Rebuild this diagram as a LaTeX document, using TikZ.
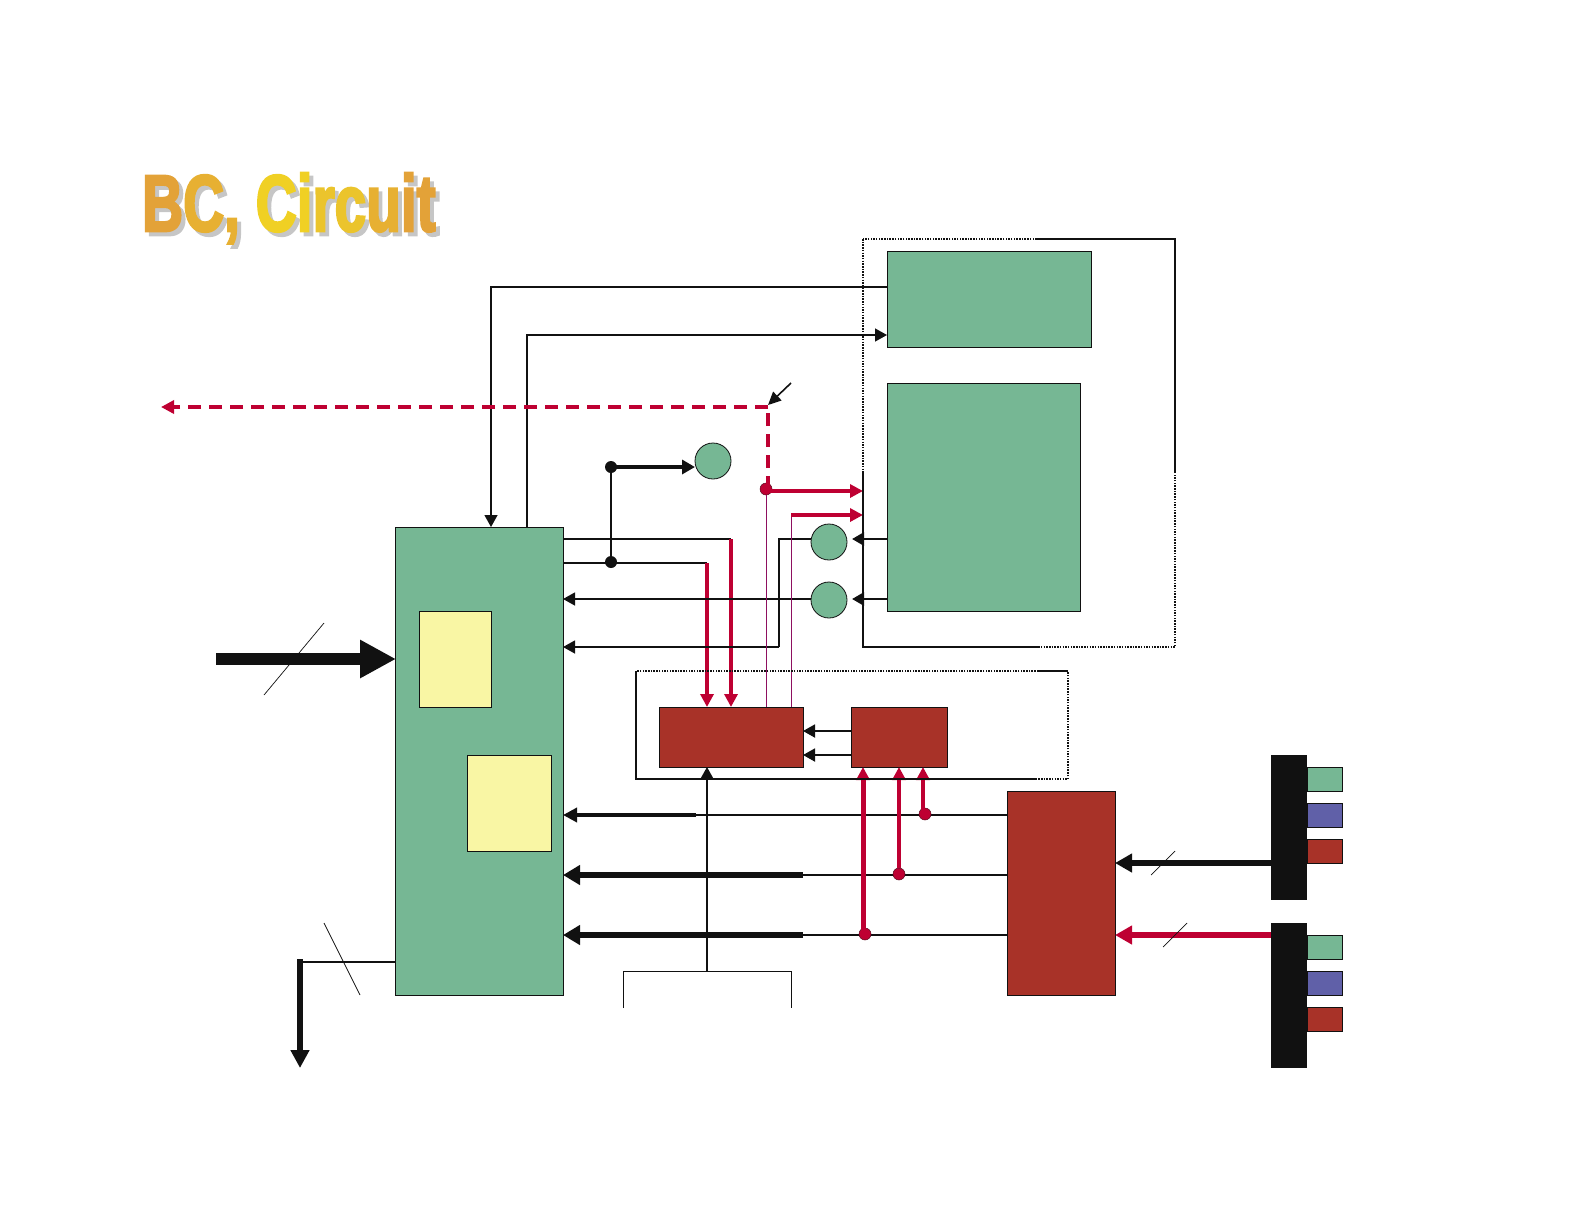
\documentclass[tikz,border=0pt]{standalone}
\usepackage{fontspec}
\usepackage{tikz}
\usetikzlibrary{calc,arrows.meta}
\newfontfamily\titlefont{Liberation Sans}[UprightFont=* Bold,FakeBold=3.4]
\definecolor{boxgreen}{HTML}{76B794}
\definecolor{boxbrick}{HTML}{A83228}
\definecolor{boxyellow}{HTML}{F9F6A4}
\definecolor{boxblue}{HTML}{6060A8}
\definecolor{wirered}{HTML}{BE0032}
\definecolor{wirepurple}{HTML}{8E1060}
\definecolor{barblack}{HTML}{111111}
\definecolor{titleshade}{HTML}{C6C6C6}
\definecolor{titleA}{HTML}{E3A238}
\definecolor{titleB}{HTML}{E7B032}
\definecolor{titleC}{HTML}{F0D024}
\definecolor{titleD}{HTML}{EBC42C}
\tikzset{
  block/.style={draw=barblack, line width=1pt, inner sep=0pt, outer sep=0pt, anchor=north west},
  greenbox/.style={block, fill=boxgreen},
  brickbox/.style={block, fill=boxbrick},
  yellowbox/.style={block, fill=boxyellow},
  bluebox/.style={block, fill=boxblue},
  stackbar/.style={inner sep=0pt, outer sep=0pt, anchor=north west, fill=barblack, minimum width=36pt, minimum height=145pt},
  smallbox/.style={minimum width=35pt, minimum height=24pt},
  ball/.style={circle, draw=barblack, line width=.8pt, fill=boxgreen, inner sep=0pt, outer sep=0pt, minimum size=36pt},
  blackdot/.style={circle, fill=barblack, inner sep=0pt, outer sep=0pt, minimum size=12pt},
  reddot/.style={circle, draw=barblack!60!wirered, line width=.5pt, fill=wirered, inner sep=0pt, outer sep=0pt, minimum size=12pt},
  thinwire/.style={draw=barblack, line width=1.3pt},
  buswire/.style={draw=barblack, line width=2.8pt},
  thickwire/.style={draw=barblack, line width=6.2pt},
  redwire/.style={draw=wirered, line width=3.8pt},
  purplewire/.style={draw=wirepurple, line width=1pt},
  slashmark/.style={draw=barblack, line width=.7pt},
  tipblack/.style={-{Triangle[length=12pt,width=13pt]}},
  tipred/.style={-{Triangle[length=13pt,width=13pt]}},
  tipbus/.style={-{Triangle[length=17pt,width=19pt]}},
  reddash/.style={draw=wirered, line width=4pt, dash pattern=on 13pt off 8pt},
  dotframe/.style={draw=barblack, line width=2.8pt, dash pattern=on 1.5pt off 1.2pt},
  solidframe/.style={draw=barblack, line width=2.6pt, line cap=butt},
}
\begin{document}
\begin{tikzpicture}[x=1pt,y=-1pt]
  \useasboundingbox (0,0) rectangle (1584,1224);

  % title
  \node[anchor=base west, inner sep=0pt, xscale=.71, font=\titlefont\fontsize{80}{80}\selectfont, text=titleshade] (titleshadow) at (146,235) {BC, Circuit};
  \node[anchor=base west, inner sep=0pt, xscale=.71, font=\titlefont\fontsize{80}{80}\selectfont] (title) at (142,231) {\textcolor{titleA}{B}\textcolor{titleB}{C,} \textcolor{titleC}{Ci}\textcolor{titleD}{rc}\textcolor{titleB}{u}\textcolor{titleA}{it}};

  % blocks
  \node[greenbox, minimum width=168pt, minimum height=468pt] (cpu) at (395,527) {};
  \node[yellowbox, minimum width=72pt, minimum height=96pt] (regA) at (419,611) {};
  \node[yellowbox, minimum width=84pt, minimum height=96pt] (regB) at (467,755) {};
  \node[greenbox, minimum width=204pt, minimum height=96pt] (memA) at (887,251) {};
  \node[greenbox, minimum width=193pt, minimum height=228pt] (memB) at (887,383) {};
  \node[brickbox, minimum width=144pt, minimum height=60pt] (ctrlA) at (659,707) {};
  \node[brickbox, minimum width=96pt, minimum height=60pt] (ctrlB) at (851,707) {};
  \node[brickbox, minimum width=108pt, minimum height=204pt] (mux) at (1007,791) {};

  % connector stacks
  \node[stackbar] (stackA) at (1271,755) {};
  \node[stackbar] (stackB) at (1271,923) {};
  \node[greenbox, smallbox] (pinAa) at (1307,767) {};
  \node[bluebox, smallbox] (pinAb) at (1307,803) {};
  \node[brickbox, smallbox] (pinAc) at (1307,839) {};
  \node[greenbox, smallbox] (pinBa) at (1307,935) {};
  \node[bluebox, smallbox] (pinBb) at (1307,971) {};
  \node[brickbox, smallbox] (pinBc) at (1307,1007) {};

  % ports and bends
  \coordinate (memOut) at (887,287);
  \coordinate (memIn) at (887,335);
  \coordinate (cpuOut) at (527,527);
  \coordinate (cpuIn) at (491,527);
  \coordinate (portA) at (887,539);
  \coordinate (portB) at (887,599);
  \coordinate (bendA) at (779,647);
  \coordinate (dashCorner) at (768,407);
  \coordinate (dashEnd) at (161,407);
  \coordinate (pointerTail) at (791,383);
  \coordinate (pointerTip) at (768,405);
  \coordinate (redIn) at (863,491);
  \coordinate (redInB) at (863,515);
  \coordinate (redCorner) at (791,515);
  \coordinate (cornerA) at (731,539);
  \coordinate (cornerB) at (707,563);
  \coordinate (tapIn) at (707,767);
  \coordinate (tapBox) at (707,971);
  \coordinate (busA) at (563,815);
  \coordinate (busB) at (563,875);
  \coordinate (busC) at (563,935);
  \coordinate (busAmid) at (696,815);
  \coordinate (busBmid) at (803,875);
  \coordinate (busCmid) at (803,935);
  \coordinate (bigTail) at (216,659);
  \coordinate (bigTip) at (396,659);
  \coordinate (outCorner) at (300,962);
  \coordinate (outStart) at (395,962);
  \coordinate (outEnd) at (300,1068);
  \coordinate (sideBlack) at (1271,863);
  \coordinate (sideRed) at (1271,935);

  % small circles and dots
  \node[ball] (ballTop) at (713,461) {};
  \node[ball] (ballA) at (829,542) {};
  \node[ball] (ballB) at (829,600) {};

  % wires to the upper blocks
  \draw[thinwire, tipblack] (memOut) -| (cpuIn);
  \draw[thinwire, tipblack] (cpuOut) |- (memIn);

  % bus lines behind the rest
  \draw[buswire] (busAmid) -- (busAmid -| mux.west);
  \draw[buswire] (busBmid) -- (busBmid -| mux.west);
  \draw[buswire] (busCmid) -- (busCmid -| mux.west);
  \draw[thinwire, tipblack] (tapBox) -- (tapIn);
  \draw[line width=3.8pt, draw=barblack, -{Triangle[length=14pt,width=14pt]}] (busAmid) -- (busA);
  \draw[thickwire, tipbus] (busBmid) -- (busB);
  \draw[thickwire, tipbus] (busCmid) -- (busC);

  % outputs of the processor
  \node[blackdot] (dotUp) at (611,467) {};
  \node[blackdot] (dotDown) at (611,562) {};
  \draw[buswire] (dotUp.center) -- (dotDown.center);
  \draw[line width=4.4pt, draw=barblack, -{Triangle[length=13pt,width=14pt]}] (dotUp.center) -- (dotUp -| ballTop.west);
  \draw[buswire] (cpu.east |- cornerA) -- (cornerA);
  \draw[buswire] (cpu.east |- cornerB) -- (cornerB);
  \draw[redwire, tipred] (cornerA) -- (cornerA |- ctrlA.north);
  \draw[redwire, tipred] (cornerB) -- (cornerB |- ctrlA.north);

  % memory read back through the circles
  \draw[buswire, tipblack, shorten >=5pt] (portA) -- (portA -| ballA.east);
  \draw[buswire, tipblack, shorten >=5pt] (portB) -- (portB -| ballB.east);
  \draw[thinwire] (ballA.west |- portA) -| (bendA);
  \draw[thinwire, tipblack] (bendA) -- (bendA -| cpu.east);
  \draw[thinwire, tipblack] (ballB.west |- portB) -- (portB -| cpu.east);

  % control signals
  \node[reddot] (dotRed) at (766,489) {};
  \draw[purplewire] (dotRed) -- (dotRed |- ctrlA.north);
  \draw[purplewire] (redCorner) -- (redCorner |- ctrlA.north);
  \draw[redwire, tipred] (dotRed.center |- redIn) -- (redIn);
  \draw[redwire, tipred] (redCorner) -- (redInB);
  \draw[reddash] (dotRed.center -| dashCorner) -- (dashCorner);
  \draw[reddash, tipred] (dashCorner) -- (dashEnd);
  \draw[draw=barblack, line width=1.6pt, -{Triangle[length=13pt,width=12pt]}] (pointerTail) -- (pointerTip);

  % between the two control blocks
  \draw[thinwire, line width=1.8pt, tipblack] (ctrlB.west |- 0,731) -- (ctrlA.east |- 0,731);
  \draw[thinwire, line width=1.8pt, tipblack] (ctrlB.west |- 0,755) -- (ctrlA.east |- 0,755);

  % taps from the buses
  \node[reddot] (tapA) at (925,814) {};
  \node[reddot] (tapB) at (899,874) {};
  \node[reddot] (tapC) at (865,934) {};
  \draw[redwire, line width=4.4pt, tipred] ([xshift=-2pt]tapA.center) -- ([xshift=-2pt]tapA.center |- ctrlB.south);
  \draw[redwire, line width=4.4pt, tipred] (tapB) -- (tapB |- ctrlB.south);
  \draw[redwire, line width=5pt, tipred] ([xshift=-2pt]tapC.center) -- ([xshift=-2pt]tapC.center |- ctrlB.south);

  % inputs of the mux
  \draw[line width=6pt, draw=barblack, -{Triangle[length=17pt,width=18pt]}] (sideBlack) -- (sideBlack -| mux.east);
  \draw[line width=6pt, draw=wirered, -{Triangle[length=17pt,width=18pt]}] (sideRed) -- (sideRed -| mux.east);

  % big arrow in, thick arrow out
  \draw[line width=12pt, draw=barblack, -{Triangle[length=36pt,width=36pt]}] (bigTail) -- (bigTip);
  \draw[buswire] (outStart) -- (outCorner);
  \draw[line width=6pt, draw=barblack, -{Triangle[length=18pt,width=18pt]}] ([yshift=3pt]outCorner) -- (outEnd);

  % bus width marks
  \coordinate (markAa) at (264,695); \coordinate (markAb) at (324,623);
  \coordinate (markBa) at (324,923); \coordinate (markBb) at (360,995);
  \coordinate (markCa) at (1151,875); \coordinate (markCb) at (1175,851);
  \coordinate (markDa) at (1163,947); \coordinate (markDb) at (1187,923);
  \draw[slashmark] (markAa) -- (markAb);
  \draw[slashmark] (markBa) -- (markBb);
  \draw[slashmark] (markCa) -- (markCb);
  \draw[slashmark] (markDa) -- (markDb);

  % open box below the tap
  \coordinate (openL) at (623,1008); \coordinate (openR) at (791,1008);
  \draw[draw=barblack, line width=1pt] (openL) |- (tapBox) -| (openR);

  % frame around the memories
  \coordinate (frameNW) at (863,239); \coordinate (frameSE) at (1175,647);
  \coordinate (frameTop) at (1037,239); \coordinate (frameBot) at (1038,647);
  \coordinate (frameLeft) at (863,473); \coordinate (frameRight) at (1175,473);
  \draw[dotframe] (frameNW) rectangle (frameSE);
  \draw[solidframe] (frameLeft) |- (frameBot);
  \draw[solidframe] (frameTop) -| (frameRight);

  % frame around the control blocks
  \coordinate (ctrlNW) at (636,671); \coordinate (ctrlSE) at (1068,779);
  \coordinate (ctrlTop) at (1037,671); \coordinate (ctrlBot) at (1037,779);
  \coordinate (ctrlSW) at (636,779);
  \draw[dotframe, line width=2.4pt] (ctrlNW) rectangle (ctrlSE);
  \draw[solidframe, line width=2.4pt] (ctrlNW) -- (ctrlSW) -- (ctrlBot);
  \draw[solidframe, line width=2.4pt] (ctrlTop) -- (ctrlTop -| ctrlSE);
\end{tikzpicture}
\end{document}
